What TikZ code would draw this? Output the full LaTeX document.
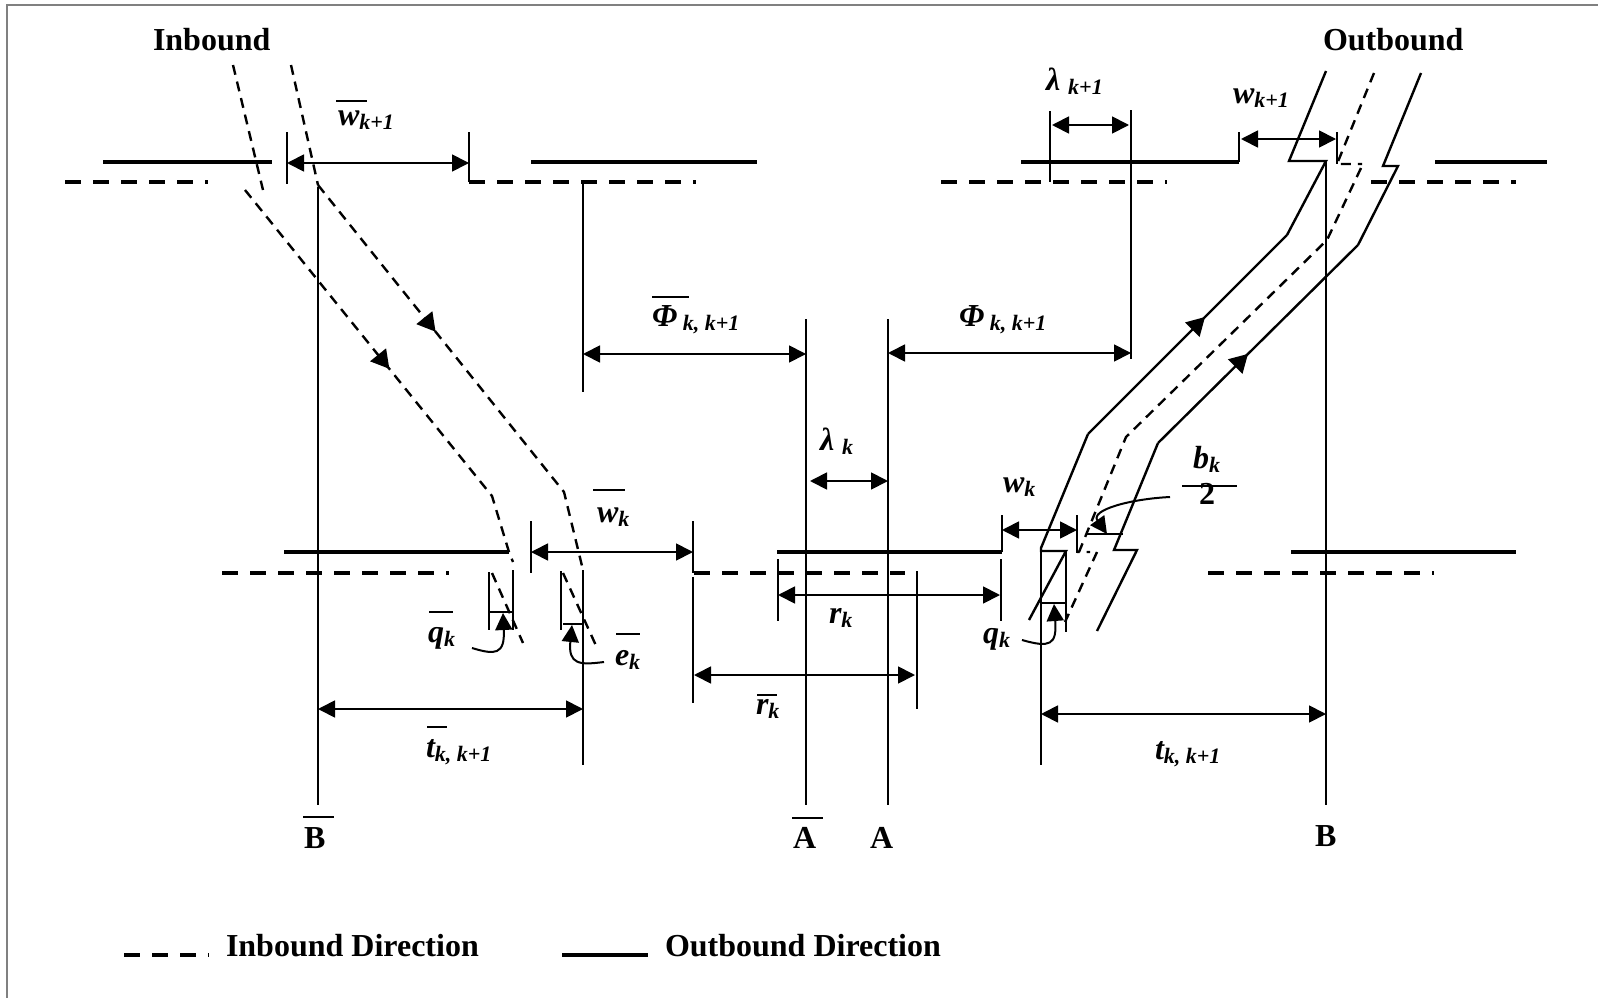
\documentclass[tikz,border=0pt]{standalone}
\usepackage{fontspec}
\setmainfont{Liberation Serif}
\usetikzlibrary{arrows.meta,decorations.markings}

\newcommand{\barred}[4]{\makebox[0pt][l]{\kern#3\raisebox{#2}{\rule{#4}{2pt}}}#1}
\newcommand{\subs}[1]{\raisebox{-4pt}{\fontsize{22}{24}\selectfont #1}}

\begin{document}
\begin{tikzpicture}[
  x=1pt, y=-1pt,
  every node/.style={inner sep=0pt, outer sep=0pt},
  headlab/.style={font=\fontsize{32}{36}\selectfont\bfseries, anchor=base west},
  lab/.style={font=\fontsize{32}{36}\selectfont\bfseries\itshape, anchor=base west},
  road/.style={line width=3.6pt},
  roaddash/.style={line width=3.6pt, dash pattern=on 16pt off 12pt},
  lane/.style={line width=2.4pt},
  lanedash/.style={line width=2.4pt, dash pattern=on 10pt off 7pt},
  tickline/.style={line width=2pt},
  dimline/.style={line width=1.8pt, {Triangle[length=17pt,width=17pt]}-{Triangle[length=17pt,width=17pt]}},
  pointer/.style={line width=2pt, -{Triangle[length=17pt,width=17pt]}},
  midarrow/.style={postaction={decorate}, decoration={markings, mark=at position #1 with {\arrow{Triangle[length=18pt,width=20pt]}}}},
]

\useasboundingbox (0,0) rectangle (1598,998);
\fill[white] (0,0) rectangle (1598,998);
\draw[gray, line width=2pt] (7,998) -- (7,5) -- (1598,5);

\node[headlab] (inboundlab) at (153,51) {Inbound};
\node[headlab] (outboundlab) at (1323,51) {Outbound};

% roads, upper row
\draw[road] (103,162) -- (272,162);
\draw[road] (531,162) -- (757,162);
\draw[road] (1021,162) -- (1239,162);
\draw[road] (1435,162) -- (1547,162);
\draw[roaddash] (65,182) -- (208,182);
\draw[roaddash] (469,182) -- (696,182);
\draw[roaddash] (941,182) -- (1167,182);
\draw[roaddash] (1371,182) -- (1516,182);

% roads, lower row
\draw[road] (284,552) -- (509,552);
\draw[road] (777,552) -- (1002,552);
\draw[road] (1291,552) -- (1516,552);
\draw[roaddash] (222,573) -- (449,573);
\draw[roaddash] (694,573) -- (905,573);
\draw[roaddash] (1208,573) -- (1434,573);

% inbound lanes
\draw[lanedash] (233,65) -- (263,190);
\draw[lanedash] (291,65) -- (318,185);
\draw[lanedash, midarrow=0.497] (245,190) -- (492,496) -- (509,552) -- (513,562);
\draw[lanedash, midarrow=0.397] (318,185) -- (564,492) -- (583,570);
\draw[lanedash] (492,573) -- (523,643);
\draw[lanedash] (563,573) -- (598,650);

% outbound lanes
\draw[lane] (1326,71) -- (1289,161) -- (1326,161) -- (1287,235);
\draw[lane, midarrow=0.588] (1088,434) -- (1287,235);
\draw[lane] (1088,434) -- (1041,548) -- (1041,551) -- (1066,551) -- (1029,620);
\draw[lane] (1421,73) -- (1383,166) -- (1398,166) -- (1358,245);
\draw[lane, midarrow=0.45] (1158,443) -- (1358,245);
\draw[lane] (1158,443) -- (1114,550) -- (1137,550) -- (1097,631);
\draw[lanedash] (1374,73) -- (1337,164) -- (1362,164);
\draw[lanedash] (1361,168) -- (1327,240) -- (1126,437) -- (1079,552) -- (1090,552);
\draw[lanedash] (1097,552) -- (1065,622);

% reference lines
\draw[tickline] (318,187) -- (318,805);
\draw[tickline] (583,182) -- (583,392);
\draw[tickline] (583,570) -- (583,765);
\draw[tickline] (806,319) -- (806,805);
\draw[tickline] (888,319) -- (888,805);
\draw[tickline] (1041,548) -- (1041,765);
\draw[tickline] (1326,161) -- (1326,805);
\draw[tickline] (1131,110) -- (1131,359);
\draw[tickline] (1050,111) -- (1050,182);

% ticks at the stop lines
\draw[tickline] (287,132) -- (287,184);
\draw[tickline] (469,132) -- (469,182);
\draw[tickline] (1239,132) -- (1239,162);
\draw[tickline] (1337,132) -- (1337,164);
\draw[tickline] (531,521) -- (531,573);
\draw[tickline] (693,521) -- (693,573);
\draw[tickline] (693,577) -- (693,703);
\draw[tickline] (1002,515) -- (1002,552);
\draw[tickline] (1077,515) -- (1077,553);
\draw[tickline] (778,559) -- (778,621);
\draw[tickline] (1001,559) -- (1001,621);
\draw[tickline] (917,571) -- (917,709);

% queue boxes
\draw[tickline] (489,572) -- (489,630);
\draw[tickline] (513,570) -- (513,630);
\draw[tickline] (489,612) -- (513,612);
\draw[tickline] (561,571) -- (561,630);
\draw[tickline] (563,624) -- (583,624);
\draw[tickline] (1066,551) -- (1066,632);
\draw[tickline] (1041,603) -- (1066,603);
\draw[tickline] (1086,534) -- (1123,534);

% dimension arrows
\draw[dimline] (287,163) -- (469,163);
\draw[dimline] (1052,125) -- (1129,125);
\draw[dimline] (1241,139) -- (1336,139);
\draw[dimline] (583,354) -- (806,354);
\draw[dimline] (888,353) -- (1131,353);
\draw[dimline] (810,481) -- (888,481);
\draw[dimline] (531,552) -- (693,552);
\draw[dimline] (1002,530) -- (1077,530);
\draw[dimline] (778,595) -- (1000,595);
\draw[dimline] (694,675) -- (915,675);
\draw[dimline] (318,709) -- (583,709);
\draw[dimline] (1041,714) -- (1326,714);

% curved pointers
\draw[pointer] (472,648) .. controls (495,655) and (505,655) .. (503,613);
\draw[pointer] (604,662) .. controls (580,665) and (568,665) .. (572,625);
\draw[pointer] (1022,640) .. controls (1050,648) and (1057,645) .. (1054,604);
\draw[pointer] (1170,497) .. controls (1130,499) and (1090,510) .. (1107,534);
\draw[tickline] (1182,486) -- (1237,486);

% labels
\node[lab] (wbarnext) at (338,125) {\barred{w}{23pt}{-2pt}{31pt}\subs{k+1}};
\node[lab] (lambdanext) at (1046,91) {λ \subs{k+1}};
\node[lab] (wnext) at (1233,103) {w\subs{k+1}};
\node[lab] (phibar) at (652,326) {\barred{Φ}{28pt}{0pt}{37pt}\subs{ k, k+1}};
\node[lab] (phi) at (959,326) {Φ\subs{ k, k+1}};
\node[lab] (lambdak) at (820,450) {λ \subs{k}};
\node[lab] (wbark) at (597,522) {\barred{w}{31pt}{-4pt}{32pt}\subs{k}};
\node[lab] (wk) at (1003,492) {w\subs{k}};
\node[lab] (bk) at (1193,468) {b\subs{k}};
\node[headlab] (two) at (1199,504) {2};
\node[lab] (rk) at (829,623) {r\subs{k}};
\node[lab] (rbark) at (756,714) {\barred{r}{18pt}{1pt}{20pt}\subs{k}};
\node[lab] (qbark) at (428,642) {\barred{q}{29pt}{1pt}{24pt}\subs{k}};
\node[lab] (ebark) at (615,665) {\barred{e}{30pt}{1pt}{24pt}\subs{k}};
\node[lab] (qk) at (983,643) {q\subs{k}};
\node[lab] (tbar) at (426,757) {\barred{t}{29pt}{1pt}{20pt}\subs{k, k+1}};
\node[lab] (tnext) at (1155,759) {t\subs{k, k+1}};
\node[headlab] (bbar) at (304,848) {\barred{B}{30pt}{-1pt}{31pt}};
\node[headlab] (abar) at (793,848) {\barred{A}{29pt}{-1pt}{31pt}};
\node[headlab] (alab) at (870,848) {A};
\node[headlab] (blab) at (1315,846) {B};

% legend
\draw[roaddash] (124,955) -- (209,955);
\draw[road] (562,955) -- (648,955);
\node[headlab] (inboundkey) at (226,956) {Inbound Direction};
\node[headlab] (outboundkey) at (665,956) {Outbound Direction};

\end{tikzpicture}
\end{document}
